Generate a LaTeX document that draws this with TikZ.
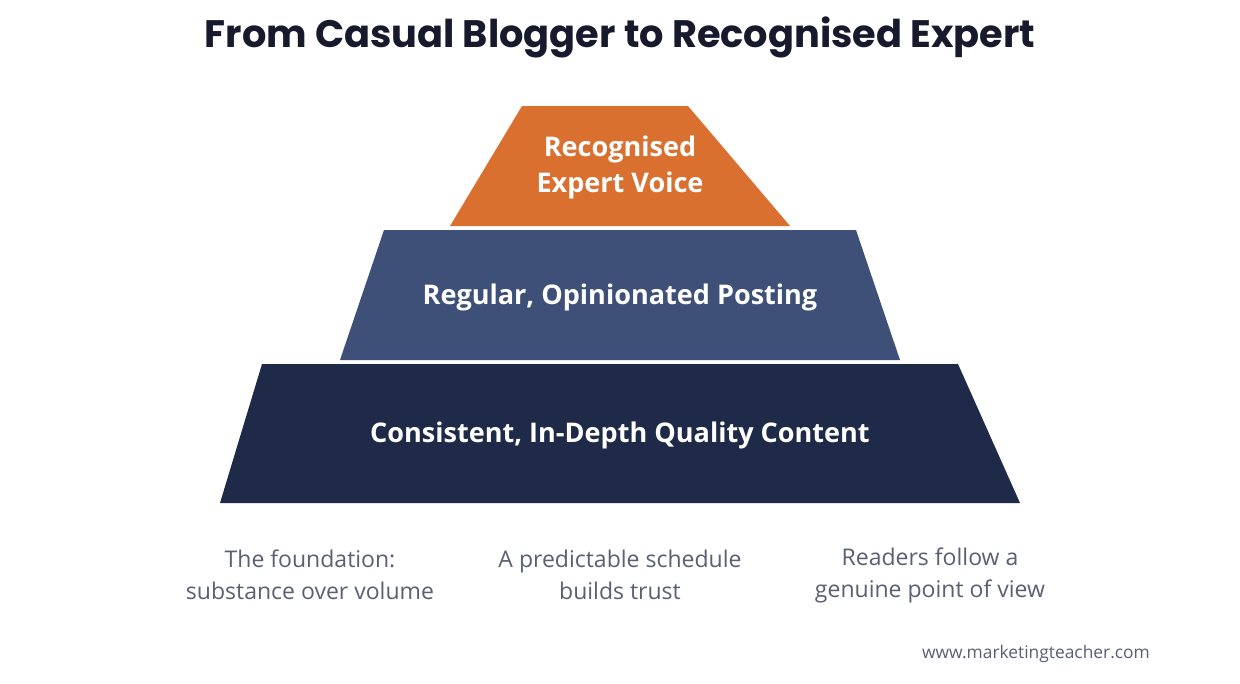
\documentclass[tikz,border=0pt]{standalone}
\usepackage{fontspec}
\setmainfont{Open Sans}
\newfontfamily\titlefont{Poppins}
\usetikzlibrary{positioning}
\definecolor{tierTop}{HTML}{D97030}
\definecolor{tierMid}{HTML}{3E5078}
\definecolor{tierBase}{HTML}{1F2A48}
\definecolor{titleInk}{HTML}{161A2C}
\definecolor{capGrey}{HTML}{5A6072}
\tikzset{
	tier label/.style={text=white, font=\fontsize{15.4}{20.5}\selectfont\bfseries, align=center},
	caption/.style={text=capGrey, font=\fontsize{13.1}{18.2}\selectfont, align=center},
}
\begin{document}
\begin{tikzpicture}[x=0.02cm,y=-0.02cm]
	\useasboundingbox (0,0) rectangle (1240,683);
	\node[font=\titlefont\fontsize{21.8}{26}\selectfont\bfseries, text=titleInk] (title) at (620,37) {From Casual Blogger to Recognised Expert};

	\fill[tierTop] (522,106) -- (688,106) -- (790,226) -- (450,226) -- cycle;
	\fill[tierMid] (384,230) -- (856,230) -- (900,360) -- (340,360) -- cycle;
	\fill[tierBase] (262,364) -- (958,364) -- (1020,503) -- (220,503) -- cycle;

	\node[tier label] (top) at (620,167) {Recognised\\Expert Voice};
	\node[tier label] (mid) at (620,297) {Regular, Opinionated Posting};
	\node[tier label] (base) at (620,435) {Consistent, In-Depth Quality Content};

	\node[caption] (capA) at (310,575) {The foundation:\\substance over volume};
	\node[caption] (capB) at (620,575) {A predictable schedule\\builds trust};
	\node[caption] (capC) at (930,575) {Readers follow a\\genuine point of view};

	\node[text=capGrey, font=\fontsize{9.9}{12}\selectfont] (url) at (1036,654) {www.marketingteacher.com};
\end{tikzpicture}
\end{document}
